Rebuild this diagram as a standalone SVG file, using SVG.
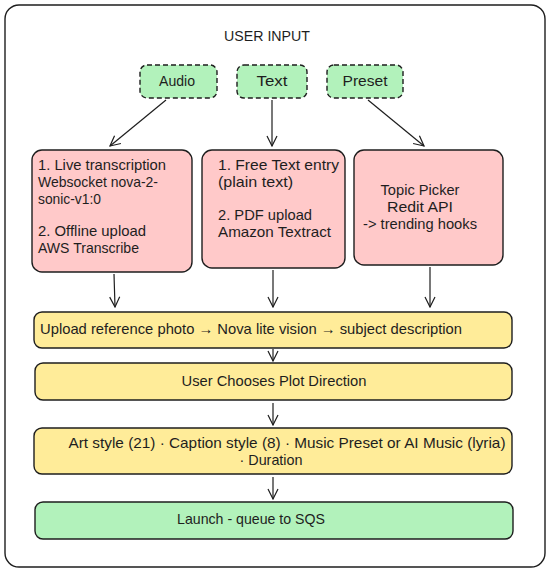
<svg xmlns="http://www.w3.org/2000/svg" width="550" height="573" viewBox="0 0 550 573">
<style>
.t{font-family:"Liberation Sans",Arial,sans-serif;font-size:15px;fill:#1e1e1e}
.c{text-anchor:middle}
.box{stroke:#1e1e1e;stroke-width:1.4}
.pink{fill:#ffc9c9}
.green{fill:#b2f2bb}
.yellow{fill:#ffec99}
.dash{stroke-dasharray:5 3}
.conn line{stroke:#1e1e1e;stroke-width:1.2;fill:none}
</style>
<defs>
<marker id="ah" viewBox="0 0 12 12" refX="11" refY="6" markerWidth="12" markerHeight="12" markerUnits="userSpaceOnUse" orient="auto">
<path d="M1,1 L11,6 L1,11" fill="none" stroke="#1e1e1e" stroke-width="1.2"/>
</marker>
</defs>
<rect width="550" height="573" fill="#ffffff"/>
<g id="frame">
<rect x="5" y="5" width="540" height="562" rx="14" fill="#ffffff" stroke="#1e1e1e" stroke-width="1.4"/>
<text class="t c" x="267" y="41" textLength="86" lengthAdjust="spacingAndGlyphs">USER INPUT</text>
</g>
<g id="audio">
<rect class="box green dash" x="140" y="65" width="77" height="33" rx="7"/>
<text class="t c" x="177" y="86" textLength="36" lengthAdjust="spacingAndGlyphs">Audio</text>
</g>
<g id="text">
<rect class="box green dash" x="237" y="65" width="70" height="33" rx="7"/>
<text class="t c" x="272" y="86" textLength="31" lengthAdjust="spacingAndGlyphs">Text</text>
</g>
<g id="preset">
<rect class="box green dash" x="327" y="65" width="76" height="33" rx="7"/>
<text class="t c" x="365" y="86" textLength="45" lengthAdjust="spacingAndGlyphs">Preset</text>
</g>
<g id="audio-detail">
<rect class="box pink" x="32" y="150" width="160" height="122" rx="10"/>
<text class="t" x="38" y="170" textLength="128" lengthAdjust="spacingAndGlyphs">1. Live transcription</text>
<text class="t" x="38" y="187" textLength="120" lengthAdjust="spacingAndGlyphs">Websocket nova-2-</text>
<text class="t" x="38" y="204" textLength="63" lengthAdjust="spacingAndGlyphs">sonic-v1:0</text>
<text class="t" x="38" y="236" textLength="108" lengthAdjust="spacingAndGlyphs">2. Offline upload</text>
<text class="t" x="38" y="253" textLength="101" lengthAdjust="spacingAndGlyphs">AWS Transcribe</text>
</g>
<g id="text-detail">
<rect class="box pink" x="202" y="150" width="143" height="118" rx="10"/>
<text class="t" x="218" y="170" textLength="121" lengthAdjust="spacingAndGlyphs">1. Free Text entry</text>
<text class="t" x="218" y="187" textLength="75" lengthAdjust="spacingAndGlyphs">(plain text)</text>
<text class="t" x="218" y="220" textLength="94" lengthAdjust="spacingAndGlyphs">2. PDF upload</text>
<text class="t" x="218" y="237" textLength="113" lengthAdjust="spacingAndGlyphs">Amazon Textract</text>
</g>
<g id="preset-detail">
<rect class="box pink" x="354" y="150" width="149" height="115" rx="10"/>
<text class="t c" x="420" y="195" textLength="79" lengthAdjust="spacingAndGlyphs">Topic Picker</text>
<text class="t c" x="420" y="212" textLength="66" lengthAdjust="spacingAndGlyphs">Redit API</text>
<text class="t c" x="420" y="229" textLength="114" lengthAdjust="spacingAndGlyphs">-&gt; trending hooks</text>
</g>
<g id="reference-photo">
<rect class="box yellow" x="34" y="312" width="478" height="36" rx="8"/>
<text class="t" x="40" y="334" textLength="422" lengthAdjust="spacingAndGlyphs">Upload reference photo → Nova lite vision → subject description</text>
</g>
<g id="plot-direction">
<rect class="box yellow" x="35" y="363" width="477" height="37" rx="8"/>
<text class="t c" x="274" y="386" textLength="185" lengthAdjust="spacingAndGlyphs">User Chooses Plot Direction</text>
</g>
<g id="style-options">
<rect class="box yellow" x="34" y="428" width="478" height="46" rx="8"/>
<text class="t c" x="287" y="448" textLength="437" lengthAdjust="spacingAndGlyphs">Art style (21) · Caption style (8) · Music Preset or AI Music (lyria)</text>
<text class="t c" x="271" y="465" textLength="63" lengthAdjust="spacingAndGlyphs">· Duration</text>
</g>
<g id="launch">
<rect class="box green" x="35" y="502" width="478" height="37" rx="8"/>
<text class="t c" x="251" y="524" textLength="148" lengthAdjust="spacingAndGlyphs">Launch - queue to SQS</text>
</g>
<g class="conn" id="connectors">
<line x1="166" y1="100" x2="110" y2="146" marker-end="url(#ah)"/>
<line x1="272" y1="100" x2="272" y2="146" marker-end="url(#ah)"/>
<line x1="368" y1="100" x2="424" y2="146" marker-end="url(#ah)"/>
<line x1="114" y1="274" x2="115" y2="307" marker-end="url(#ah)"/>
<line x1="273" y1="270" x2="273" y2="307" marker-end="url(#ah)"/>
<line x1="430" y1="267" x2="430" y2="307" marker-end="url(#ah)"/>
<line x1="273" y1="349" x2="273" y2="361" marker-end="url(#ah)"/>
<line x1="273" y1="403" x2="273" y2="425" marker-end="url(#ah)"/>
<line x1="273" y1="477" x2="273" y2="499" marker-end="url(#ah)"/>
</g>
</svg>
